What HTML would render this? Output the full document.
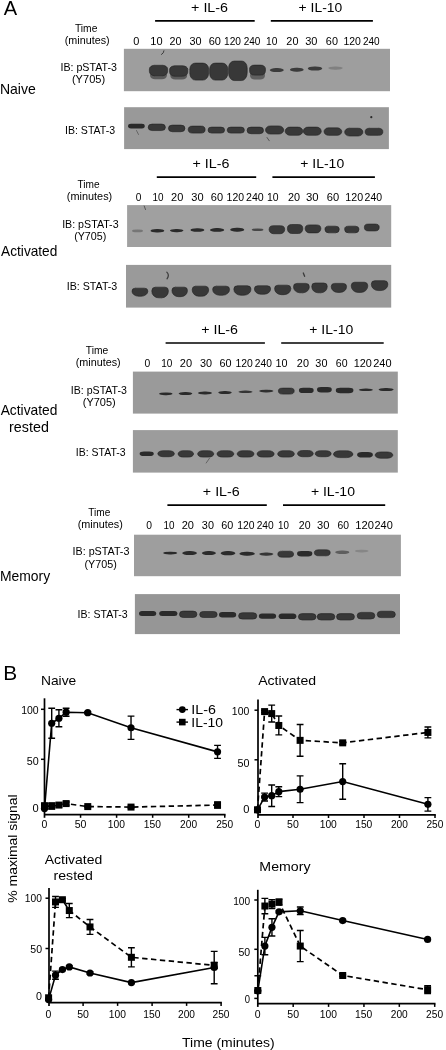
<!DOCTYPE html>
<html><head><meta charset="utf-8"><style>
html,body{margin:0;padding:0;background:#fff;}
body{width:446px;height:1050px;overflow:hidden;}
svg{display:block;font-family:"Liberation Sans", sans-serif;filter:grayscale(1) blur(0.3px);}
</style></head><body>
<svg width="446" height="1050" viewBox="0 0 446 1050" xmlns="http://www.w3.org/2000/svg">
<defs><filter id="bl" x="-20%" y="-50%" width="140%" height="200%"><feGaussianBlur stdDeviation="0.45"/></filter></defs>
<text x="3.80" y="14.80" font-size="20.6" textLength="13.40" lengthAdjust="spacingAndGlyphs" >A</text>
<text x="3.21" y="679.90" font-size="20.4" textLength="13.93" lengthAdjust="spacingAndGlyphs" >B</text>
<text x="-0.11" y="93.80" font-size="14.5" textLength="35.87" lengthAdjust="spacingAndGlyphs" >Naive</text>
<text x="191.09" y="11.80" font-size="13.2" textLength="36.96" lengthAdjust="spacingAndGlyphs" >+ IL-6</text>
<line x1="155.10" y1="20.90" x2="254.70" y2="20.90" stroke="#000" stroke-width="1.7" />
<text x="298.61" y="11.80" font-size="13.2" textLength="43.65" lengthAdjust="spacingAndGlyphs" >+ IL-10</text>
<line x1="270.80" y1="20.90" x2="372.90" y2="20.90" stroke="#000" stroke-width="1.7" />
<text x="74.94" y="31.70" font-size="10" textLength="22.43" lengthAdjust="spacingAndGlyphs" >Time</text>
<text x="64.79" y="44.00" font-size="10" textLength="44.85" lengthAdjust="spacingAndGlyphs" >(minutes)</text>
<text x="133.35" y="44.60" font-size="10" textLength="6.09" lengthAdjust="spacingAndGlyphs" >0</text>
<text x="150.38" y="44.60" font-size="10" textLength="12.24" lengthAdjust="spacingAndGlyphs" >10</text>
<text x="169.46" y="44.60" font-size="10" textLength="11.94" lengthAdjust="spacingAndGlyphs" >20</text>
<text x="189.46" y="44.60" font-size="10" textLength="12.05" lengthAdjust="spacingAndGlyphs" >30</text>
<text x="208.65" y="44.60" font-size="10" textLength="12.26" lengthAdjust="spacingAndGlyphs" >60</text>
<text x="224.04" y="44.60" font-size="10" textLength="17.01" lengthAdjust="spacingAndGlyphs" >120</text>
<text x="243.70" y="44.60" font-size="10" textLength="16.74" lengthAdjust="spacingAndGlyphs" >240</text>
<text x="266.04" y="44.60" font-size="10" textLength="11.35" lengthAdjust="spacingAndGlyphs" >10</text>
<text x="286.36" y="44.60" font-size="10" textLength="12.05" lengthAdjust="spacingAndGlyphs" >20</text>
<text x="305.15" y="44.60" font-size="10" textLength="12.26" lengthAdjust="spacingAndGlyphs" >30</text>
<text x="325.86" y="44.60" font-size="10" textLength="12.05" lengthAdjust="spacingAndGlyphs" >60</text>
<text x="343.42" y="44.60" font-size="10" textLength="17.44" lengthAdjust="spacingAndGlyphs" >120</text>
<text x="362.90" y="44.60" font-size="10" textLength="16.74" lengthAdjust="spacingAndGlyphs" >240</text>
<rect x="123.9" y="48.8" width="266.1" height="42.4" fill="#9e9e9e"/>
<rect x="124.1" y="107.2" width="264.8" height="41.9" fill="#999999"/>
<rect x="150.10" y="70" width="16.8" height="9.30" rx="5.04" ry="3.72" fill="#5a5a5a" filter="url(#bl)"/>
<rect x="170.30" y="70" width="16.8" height="9.60" rx="5.04" ry="3.84" fill="#5a5a5a" filter="url(#bl)"/>
<rect x="250.10" y="70" width="14.8" height="9.50" rx="4.44" ry="3.80" fill="#5e5e5e" filter="url(#bl)"/>
<path d="M149.40,68.92A5.46,3.67 0 0 1 154.86,65.25H162.14A5.46,3.67 0 0 1 167.60,68.92V71.55A5.46,4.20 0 0 1 162.14,75.75H154.86A5.46,4.20 0 0 1 149.40,71.55Z" fill="#383838" stroke="#222" stroke-width="0.6" opacity="1" filter="url(#bl)"/>
<path d="M169.60,69.42A5.46,3.67 0 0 1 175.06,65.75H182.34A5.46,3.67 0 0 1 187.80,69.42V72.05A5.46,4.20 0 0 1 182.34,76.25H175.06A5.46,4.20 0 0 1 169.60,72.05Z" fill="#383838" stroke="#222" stroke-width="0.6" opacity="1" filter="url(#bl)"/>
<path d="M189.80,69.05A5.64,5.95 0 0 1 195.44,63.10H202.96A5.64,5.95 0 0 1 208.60,69.05V73.30A5.64,6.80 0 0 1 202.96,80.10H195.44A5.64,6.80 0 0 1 189.80,73.30Z" fill="#383838" stroke="#222" stroke-width="0.6" opacity="1" filter="url(#bl)"/>
<path d="M209.65,69.05A5.43,5.95 0 0 1 215.08,63.10H222.32A5.43,5.95 0 0 1 227.75,69.05V73.30A5.43,6.80 0 0 1 222.32,80.10H215.08A5.43,6.80 0 0 1 209.65,73.30Z" fill="#383838" stroke="#222" stroke-width="0.6" opacity="1" filter="url(#bl)"/>
<path d="M228.60,67.88A5.58,6.82 0 0 1 234.18,61.05H241.62A5.58,6.82 0 0 1 247.20,67.88V72.75A5.58,7.80 0 0 1 241.62,80.55H234.18A5.58,7.80 0 0 1 228.60,72.75Z" fill="#383838" stroke="#222" stroke-width="0.6" opacity="1" filter="url(#bl)"/>
<path d="M249.60,68.60A4.74,3.50 0 0 1 254.34,65.10H260.66A4.74,3.50 0 0 1 265.40,68.60V71.10A4.74,4.00 0 0 1 260.66,75.10H254.34A4.74,4.00 0 0 1 249.60,71.10Z" fill="#383838" stroke="#222" stroke-width="0.6" opacity="1" filter="url(#bl)"/>
<path d="M269.75,70.10A6.34,2.00 0 0 1 276.10,68.10H277.50A6.34,2.00 0 0 1 283.85,70.10V70.10A6.34,2.00 0 0 1 277.50,72.10H276.10A6.34,2.00 0 0 1 269.75,70.10Z" fill="#2a2a2a" opacity="0.85" filter="url(#bl)"/>
<path d="M289.95,69.70A6.17,2.00 0 0 1 296.12,67.70H297.49A6.17,2.00 0 0 1 303.65,69.70V69.70A6.17,2.00 0 0 1 297.49,71.70H296.12A6.17,2.00 0 0 1 289.95,69.70Z" fill="#2a2a2a" opacity="0.85" filter="url(#bl)"/>
<path d="M307.75,68.50A6.53,2.00 0 0 1 314.27,66.50H315.73A6.53,2.00 0 0 1 322.25,68.50V68.50A6.53,2.00 0 0 1 315.73,70.50H314.27A6.53,2.00 0 0 1 307.75,68.50Z" fill="#2a2a2a" opacity="0.85" filter="url(#bl)"/>
<path d="M328.20,68.10A6.57,1.60 0 0 1 334.77,66.50H336.23A6.57,1.60 0 0 1 342.80,68.10V68.10A6.57,1.60 0 0 1 336.23,69.70H334.77A6.57,1.60 0 0 1 328.20,68.10Z" fill="#2a2a2a" opacity="0.25" filter="url(#bl)"/>
<path d="M128.00,126.10A2.94,2.45 0 0 1 130.94,123.65H141.86A2.94,2.45 0 0 1 144.80,126.10V126.10A2.94,2.45 0 0 1 141.86,128.55H130.94A2.94,2.45 0 0 1 128.00,126.10Z" fill="#2a2a2a" opacity="1" filter="url(#bl)"/>
<path d="M148.20,127.30A3.90,3.25 0 0 1 152.10,124.05H161.50A3.90,3.25 0 0 1 165.40,127.30V127.30A3.90,3.25 0 0 1 161.50,130.55H152.10A3.90,3.25 0 0 1 148.20,127.30Z" fill="#383838" stroke="#222" stroke-width="0.6" opacity="1" filter="url(#bl)"/>
<path d="M168.45,128.40A3.96,3.30 0 0 1 172.41,125.10H180.99A3.96,3.30 0 0 1 184.95,128.40V128.40A3.96,3.30 0 0 1 180.99,131.70H172.41A3.96,3.30 0 0 1 168.45,128.40Z" fill="#383838" stroke="#222" stroke-width="0.6" opacity="1" filter="url(#bl)"/>
<path d="M188.25,129.60A4.20,3.50 0 0 1 192.45,126.10H200.95A4.20,3.50 0 0 1 205.15,129.60V129.60A4.20,3.50 0 0 1 200.95,133.10H192.45A4.20,3.50 0 0 1 188.25,129.60Z" fill="#383838" stroke="#222" stroke-width="0.6" opacity="1" filter="url(#bl)"/>
<path d="M208.00,130.10A3.60,3.00 0 0 1 211.60,127.10H221.00A3.60,3.00 0 0 1 224.60,130.10V130.10A3.60,3.00 0 0 1 221.00,133.10H211.60A3.60,3.00 0 0 1 208.00,130.10Z" fill="#383838" stroke="#222" stroke-width="0.6" opacity="1" filter="url(#bl)"/>
<path d="M227.20,130.10A3.60,3.00 0 0 1 230.80,127.10H240.80A3.60,3.00 0 0 1 244.40,130.10V130.10A3.60,3.00 0 0 1 240.80,133.10H230.80A3.60,3.00 0 0 1 227.20,130.10Z" fill="#383838" stroke="#222" stroke-width="0.6" opacity="1" filter="url(#bl)"/>
<path d="M247.05,130.40A3.96,3.30 0 0 1 251.01,127.10H259.59A3.96,3.30 0 0 1 263.55,130.40V130.40A3.96,3.30 0 0 1 259.59,133.70H251.01A3.96,3.30 0 0 1 247.05,130.40Z" fill="#383838" stroke="#222" stroke-width="0.6" opacity="1" filter="url(#bl)"/>
<path d="M265.50,130.00A4.86,4.05 0 0 1 270.36,125.95H278.84A4.86,4.05 0 0 1 283.70,130.00V130.00A4.86,4.05 0 0 1 278.84,134.05H270.36A4.86,4.05 0 0 1 265.50,130.00Z" fill="#383838" stroke="#222" stroke-width="0.6" opacity="1" filter="url(#bl)"/>
<path d="M285.20,131.20A4.92,4.10 0 0 1 290.12,127.10H297.88A4.92,4.10 0 0 1 302.80,131.20V131.20A4.92,4.10 0 0 1 297.88,135.30H290.12A4.92,4.10 0 0 1 285.20,131.20Z" fill="#383838" stroke="#222" stroke-width="0.6" opacity="1" filter="url(#bl)"/>
<path d="M303.35,131.20A4.92,4.10 0 0 1 308.27,127.10H316.33A4.92,4.10 0 0 1 321.25,131.20V131.20A4.92,4.10 0 0 1 316.33,135.30H308.27A4.92,4.10 0 0 1 303.35,131.20Z" fill="#383838" stroke="#222" stroke-width="0.6" opacity="1" filter="url(#bl)"/>
<path d="M324.05,131.60A4.50,3.75 0 0 1 328.55,127.85H337.25A4.50,3.75 0 0 1 341.75,131.60V131.60A4.50,3.75 0 0 1 337.25,135.35H328.55A4.50,3.75 0 0 1 324.05,131.60Z" fill="#383838" stroke="#222" stroke-width="0.6" opacity="1" filter="url(#bl)"/>
<path d="M344.70,132.10A4.68,3.90 0 0 1 349.38,128.20H358.22A4.68,3.90 0 0 1 362.90,132.10V132.10A4.68,3.90 0 0 1 358.22,136.00H349.38A4.68,3.90 0 0 1 344.70,132.10Z" fill="#383838" stroke="#222" stroke-width="0.6" opacity="1" filter="url(#bl)"/>
<path d="M365.15,131.80A4.26,3.55 0 0 1 369.41,128.25H378.59A4.26,3.55 0 0 1 382.85,131.80V131.80A4.26,3.55 0 0 1 378.59,135.35H369.41A4.26,3.55 0 0 1 365.15,131.80Z" fill="#383838" stroke="#222" stroke-width="0.6" opacity="1" filter="url(#bl)"/>
<text x="60.43" y="71.00" font-size="11" textLength="56.48" lengthAdjust="spacingAndGlyphs" >IB: pSTAT-3</text>
<text x="71.95" y="83.30" font-size="11" textLength="33.19" lengthAdjust="spacingAndGlyphs" >(Y705)</text>
<text x="65.04" y="134.10" font-size="11" textLength="50.06" lengthAdjust="spacingAndGlyphs" >IB: STAT-3</text>
<text x="1.10" y="255.90" font-size="14.5" textLength="56.25" lengthAdjust="spacingAndGlyphs" >Activated</text>
<text x="192.49" y="168.20" font-size="13.2" textLength="36.85" lengthAdjust="spacingAndGlyphs" >+ IL-6</text>
<line x1="156.80" y1="177.10" x2="256.20" y2="177.10" stroke="#000" stroke-width="1.7" />
<text x="300.31" y="168.20" font-size="13.2" textLength="43.86" lengthAdjust="spacingAndGlyphs" >+ IL-10</text>
<line x1="272.40" y1="177.10" x2="374.90" y2="177.10" stroke="#000" stroke-width="1.7" />
<text x="77.55" y="188.20" font-size="10" textLength="22.12" lengthAdjust="spacingAndGlyphs" >Time</text>
<text x="66.88" y="200.30" font-size="10" textLength="45.36" lengthAdjust="spacingAndGlyphs" >(minutes)</text>
<text x="135.79" y="200.80" font-size="10" textLength="5.62" lengthAdjust="spacingAndGlyphs" >0</text>
<text x="152.56" y="200.80" font-size="10" textLength="11.01" lengthAdjust="spacingAndGlyphs" >10</text>
<text x="171.05" y="200.80" font-size="10" textLength="12.26" lengthAdjust="spacingAndGlyphs" >20</text>
<text x="191.35" y="200.80" font-size="10" textLength="12.26" lengthAdjust="spacingAndGlyphs" >30</text>
<text x="210.75" y="200.80" font-size="10" textLength="12.26" lengthAdjust="spacingAndGlyphs" >60</text>
<text x="226.62" y="200.80" font-size="10" textLength="17.44" lengthAdjust="spacingAndGlyphs" >120</text>
<text x="246.07" y="200.80" font-size="10" textLength="17.69" lengthAdjust="spacingAndGlyphs" >240</text>
<text x="267.02" y="200.80" font-size="10" textLength="11.57" lengthAdjust="spacingAndGlyphs" >10</text>
<text x="288.06" y="200.80" font-size="10" textLength="12.05" lengthAdjust="spacingAndGlyphs" >20</text>
<text x="306.03" y="200.80" font-size="10" textLength="12.59" lengthAdjust="spacingAndGlyphs" >30</text>
<text x="326.74" y="200.80" font-size="10" textLength="12.37" lengthAdjust="spacingAndGlyphs" >60</text>
<text x="345.30" y="200.80" font-size="10" textLength="17.76" lengthAdjust="spacingAndGlyphs" >120</text>
<text x="364.58" y="200.80" font-size="10" textLength="17.48" lengthAdjust="spacingAndGlyphs" >240</text>
<rect x="127.1" y="205.1" width="264.1" height="41.9" fill="#a0a0a0"/>
<rect x="126" y="264.9" width="265.2" height="42.7" fill="#9a9a9a"/>
<path d="M132.00,230.90A4.95,1.30 0 0 1 136.95,229.60H138.05A4.95,1.30 0 0 1 143.00,230.90V230.90A4.95,1.30 0 0 1 138.05,232.20H136.95A4.95,1.30 0 0 1 132.00,230.90Z" fill="#2a2a2a" opacity="0.35" filter="url(#bl)"/>
<path d="M150.55,230.80A6.17,1.70 0 0 1 156.72,229.10H158.09A6.17,1.70 0 0 1 164.25,230.80V230.80A6.17,1.70 0 0 1 158.09,232.50H156.72A6.17,1.70 0 0 1 150.55,230.80Z" fill="#2a2a2a" opacity="1" filter="url(#bl)"/>
<path d="M169.95,230.60A6.08,1.60 0 0 1 176.02,229.00H177.38A6.08,1.60 0 0 1 183.45,230.60V230.60A6.08,1.60 0 0 1 177.38,232.20H176.02A6.08,1.60 0 0 1 169.95,230.60Z" fill="#2a2a2a" opacity="1" filter="url(#bl)"/>
<path d="M190.50,229.90A6.21,1.75 0 0 1 196.71,228.15H198.09A6.21,1.75 0 0 1 204.30,229.90V229.90A6.21,1.75 0 0 1 198.09,231.65H196.71A6.21,1.75 0 0 1 190.50,229.90Z" fill="#2a2a2a" opacity="1" filter="url(#bl)"/>
<path d="M210.00,229.90A6.39,1.80 0 0 1 216.39,228.10H217.81A6.39,1.80 0 0 1 224.20,229.90V229.90A6.39,1.80 0 0 1 217.81,231.70H216.39A6.39,1.80 0 0 1 210.00,229.90Z" fill="#2a2a2a" opacity="1" filter="url(#bl)"/>
<path d="M230.15,229.70A6.34,2.00 0 0 1 236.49,227.70H237.91A6.34,2.00 0 0 1 244.25,229.70V229.70A6.34,2.00 0 0 1 237.91,231.70H236.49A6.34,2.00 0 0 1 230.15,229.70Z" fill="#2a2a2a" opacity="1" filter="url(#bl)"/>
<path d="M251.75,229.80A5.26,1.30 0 0 1 257.02,228.50H258.19A5.26,1.30 0 0 1 263.45,229.80V229.80A5.26,1.30 0 0 1 258.19,231.10H257.02A5.26,1.30 0 0 1 251.75,229.80Z" fill="#2a2a2a" opacity="0.75" filter="url(#bl)"/>
<path d="M269.15,229.06A4.34,3.36 0 0 1 273.49,225.70H280.31A4.34,3.36 0 0 1 284.65,229.06V229.70A4.34,4.00 0 0 1 280.31,233.70H273.49A4.34,4.00 0 0 1 269.15,229.70Z" fill="#383838" stroke="#222" stroke-width="0.6" opacity="1" filter="url(#bl)"/>
<path d="M287.45,228.28A4.28,3.78 0 0 1 291.73,224.50H298.47A4.28,3.78 0 0 1 302.75,228.28V229.00A4.28,4.50 0 0 1 298.47,233.50H291.73A4.28,4.50 0 0 1 287.45,229.00Z" fill="#383838" stroke="#222" stroke-width="0.6" opacity="1" filter="url(#bl)"/>
<path d="M305.20,228.26A4.37,3.36 0 0 1 309.57,224.90H316.43A4.37,3.36 0 0 1 320.80,228.26V228.90A4.37,4.00 0 0 1 316.43,232.90H309.57A4.37,4.00 0 0 1 305.20,228.90Z" fill="#383838" stroke="#222" stroke-width="0.6" opacity="1" filter="url(#bl)"/>
<path d="M324.95,228.96A4.00,2.81 0 0 1 328.95,226.15H335.25A4.00,2.81 0 0 1 339.25,228.96V229.50A4.00,3.35 0 0 1 335.25,232.85H328.95A4.00,3.35 0 0 1 324.95,229.50Z" fill="#383838" stroke="#222" stroke-width="0.6" opacity="1" filter="url(#bl)"/>
<path d="M344.65,228.96A4.00,2.81 0 0 1 348.65,226.15H354.95A4.00,2.81 0 0 1 358.95,228.96V229.50A4.00,3.35 0 0 1 354.95,232.85H348.65A4.00,3.35 0 0 1 344.65,229.50Z" fill="#383838" stroke="#222" stroke-width="0.6" opacity="1" filter="url(#bl)"/>
<path d="M364.40,226.95A4.14,2.90 0 0 1 368.54,224.05H375.06A4.14,2.90 0 0 1 379.20,226.95V227.50A4.14,3.45 0 0 1 375.06,230.95H368.54A4.14,3.45 0 0 1 364.40,227.50Z" fill="#383838" stroke="#222" stroke-width="0.6" opacity="1" filter="url(#bl)"/>
<path d="M132.00,290.98A3.48,2.83 0 0 1 135.48,288.15H144.32A3.48,2.83 0 0 1 147.80,290.98V291.23A6.64,5.02 0 0 1 141.16,296.25H138.64A6.64,5.02 0 0 1 132.00,291.23Z" fill="#383838" stroke="#222" stroke-width="0.6" opacity="1" filter="url(#bl)"/>
<path d="M151.80,290.89A3.65,3.74 0 0 1 155.45,287.15H164.75A3.65,3.74 0 0 1 168.40,290.89V291.22A6.97,6.63 0 0 1 161.43,297.85H158.77A6.97,6.63 0 0 1 151.80,291.22Z" fill="#383838" stroke="#222" stroke-width="0.6" opacity="1" filter="url(#bl)"/>
<path d="M171.95,290.47A3.41,3.32 0 0 1 175.36,287.15H184.04A3.41,3.32 0 0 1 187.45,290.47V290.76A6.51,5.89 0 0 1 180.94,296.65H178.46A6.51,5.89 0 0 1 171.95,290.76Z" fill="#383838" stroke="#222" stroke-width="0.6" opacity="1" filter="url(#bl)"/>
<path d="M192.15,289.69A3.63,3.53 0 0 1 195.78,286.15H205.02A3.63,3.53 0 0 1 208.65,289.69V289.99A6.93,6.26 0 0 1 201.72,296.25H199.08A6.93,6.26 0 0 1 192.15,289.99Z" fill="#383838" stroke="#222" stroke-width="0.6" opacity="1" filter="url(#bl)"/>
<path d="M212.65,289.33A3.72,3.18 0 0 1 216.37,286.15H225.83A3.72,3.18 0 0 1 229.55,289.33V289.61A7.10,5.64 0 0 1 222.45,295.25H219.75A7.10,5.64 0 0 1 212.65,289.61Z" fill="#383838" stroke="#222" stroke-width="0.6" opacity="1" filter="url(#bl)"/>
<path d="M233.85,289.07A3.76,3.32 0 0 1 237.61,285.75H247.19A3.76,3.32 0 0 1 250.95,289.07V289.36A7.18,5.89 0 0 1 243.77,295.25H241.03A7.18,5.89 0 0 1 233.85,289.36Z" fill="#383838" stroke="#222" stroke-width="0.6" opacity="1" filter="url(#bl)"/>
<path d="M254.40,288.73A3.56,2.97 0 0 1 257.96,285.75H267.04A3.56,2.97 0 0 1 270.60,288.73V288.98A6.80,5.27 0 0 1 263.80,294.25H261.20A6.80,5.27 0 0 1 254.40,288.98Z" fill="#383838" stroke="#222" stroke-width="0.6" opacity="1" filter="url(#bl)"/>
<path d="M274.60,288.47A3.56,3.32 0 0 1 278.16,285.15H287.24A3.56,3.32 0 0 1 290.80,288.47V288.76A6.80,5.89 0 0 1 284.00,294.65H281.40A6.80,5.89 0 0 1 274.60,288.76Z" fill="#383838" stroke="#222" stroke-width="0.6" opacity="1" filter="url(#bl)"/>
<path d="M293.50,286.69A3.48,3.29 0 0 1 296.98,283.40H305.82A3.48,3.29 0 0 1 309.30,286.69V286.97A6.64,5.83 0 0 1 302.66,292.80H300.14A6.64,5.83 0 0 1 293.50,286.97Z" fill="#383838" stroke="#222" stroke-width="0.6" opacity="1" filter="url(#bl)"/>
<path d="M311.75,286.43A3.41,3.43 0 0 1 315.16,283.00H323.84A3.41,3.43 0 0 1 327.25,286.43V286.72A6.51,6.08 0 0 1 320.74,292.80H318.26A6.51,6.08 0 0 1 311.75,286.72Z" fill="#383838" stroke="#222" stroke-width="0.6" opacity="1" filter="url(#bl)"/>
<path d="M331.25,286.55A3.37,3.15 0 0 1 334.62,283.40H343.18A3.37,3.15 0 0 1 346.55,286.55V286.82A6.43,5.58 0 0 1 340.12,292.40H337.68A6.43,5.58 0 0 1 331.25,286.82Z" fill="#383838" stroke="#222" stroke-width="0.6" opacity="1" filter="url(#bl)"/>
<path d="M351.25,285.77A3.63,3.57 0 0 1 354.88,282.20H364.12A3.63,3.57 0 0 1 367.75,285.77V286.08A6.93,6.32 0 0 1 360.82,292.40H358.18A6.93,6.32 0 0 1 351.25,286.08Z" fill="#383838" stroke="#222" stroke-width="0.6" opacity="1" filter="url(#bl)"/>
<path d="M371.35,284.12A3.63,3.46 0 0 1 374.98,280.65H384.22A3.63,3.46 0 0 1 387.85,284.12V284.41A6.93,6.14 0 0 1 380.92,290.55H378.28A6.93,6.14 0 0 1 371.35,284.41Z" fill="#383838" stroke="#222" stroke-width="0.6" opacity="1" filter="url(#bl)"/>
<text x="62.13" y="227.70" font-size="11" textLength="56.48" lengthAdjust="spacingAndGlyphs" >IB: pSTAT-3</text>
<text x="74.17" y="239.90" font-size="11" textLength="32.15" lengthAdjust="spacingAndGlyphs" >(Y705)</text>
<text x="66.73" y="290.40" font-size="11" textLength="50.58" lengthAdjust="spacingAndGlyphs" >IB: STAT-3</text>
<text x="0.70" y="415.40" font-size="14.5" textLength="56.66" lengthAdjust="spacingAndGlyphs" >Activated</text>
<text x="9.11" y="431.60" font-size="14.5" textLength="39.73" lengthAdjust="spacingAndGlyphs" >rested</text>
<text x="201.19" y="333.80" font-size="13.2" textLength="36.85" lengthAdjust="spacingAndGlyphs" >+ IL-6</text>
<line x1="165.60" y1="343.00" x2="264.90" y2="343.00" stroke="#000" stroke-width="1.7" />
<text x="309.30" y="333.80" font-size="13.2" textLength="43.96" lengthAdjust="spacingAndGlyphs" >+ IL-10</text>
<line x1="281.20" y1="343.00" x2="383.70" y2="343.00" stroke="#000" stroke-width="1.7" />
<text x="85.84" y="353.60" font-size="10" textLength="22.43" lengthAdjust="spacingAndGlyphs" >Time</text>
<text x="75.69" y="366.30" font-size="10" textLength="45.05" lengthAdjust="spacingAndGlyphs" >(minutes)</text>
<text x="144.48" y="366.60" font-size="10" textLength="5.74" lengthAdjust="spacingAndGlyphs" >0</text>
<text x="161.15" y="366.60" font-size="10" textLength="11.12" lengthAdjust="spacingAndGlyphs" >10</text>
<text x="179.85" y="366.60" font-size="10" textLength="12.26" lengthAdjust="spacingAndGlyphs" >20</text>
<text x="200.06" y="366.60" font-size="10" textLength="12.05" lengthAdjust="spacingAndGlyphs" >30</text>
<text x="219.46" y="366.60" font-size="10" textLength="12.05" lengthAdjust="spacingAndGlyphs" >60</text>
<text x="235.42" y="366.60" font-size="10" textLength="17.33" lengthAdjust="spacingAndGlyphs" >120</text>
<text x="254.89" y="366.60" font-size="10" textLength="17.06" lengthAdjust="spacingAndGlyphs" >240</text>
<text x="275.49" y="366.60" font-size="10" textLength="12.02" lengthAdjust="spacingAndGlyphs" >10</text>
<text x="296.86" y="366.60" font-size="10" textLength="12.05" lengthAdjust="spacingAndGlyphs" >20</text>
<text x="315.36" y="366.60" font-size="10" textLength="12.05" lengthAdjust="spacingAndGlyphs" >30</text>
<text x="335.87" y="366.60" font-size="10" textLength="11.72" lengthAdjust="spacingAndGlyphs" >60</text>
<text x="353.79" y="366.60" font-size="10" textLength="18.09" lengthAdjust="spacingAndGlyphs" >120</text>
<text x="373.25" y="366.60" font-size="10" textLength="18.33" lengthAdjust="spacingAndGlyphs" >240</text>
<rect x="132.9" y="371.6" width="264.9" height="42.0" fill="#9a9a9a"/>
<rect x="132.9" y="430.1" width="264.9" height="42.5" fill="#9c9c9c"/>
<path d="M159.05,393.80A6.08,1.40 0 0 1 165.12,392.40H166.48A6.08,1.40 0 0 1 172.55,393.80V393.80A6.08,1.40 0 0 1 166.48,395.20H165.12A6.08,1.40 0 0 1 159.05,393.80Z" fill="#2a2a2a" opacity="1" filter="url(#bl)"/>
<path d="M178.65,393.60A6.17,1.50 0 0 1 184.81,392.10H186.19A6.17,1.50 0 0 1 192.35,393.60V393.60A6.17,1.50 0 0 1 186.19,395.10H184.81A6.17,1.50 0 0 1 178.65,393.60Z" fill="#2a2a2a" opacity="1" filter="url(#bl)"/>
<path d="M197.95,393.00A6.34,1.50 0 0 1 204.29,391.50H205.71A6.34,1.50 0 0 1 212.05,393.00V393.00A6.34,1.50 0 0 1 205.71,394.50H204.29A6.34,1.50 0 0 1 197.95,393.00Z" fill="#2a2a2a" opacity="1" filter="url(#bl)"/>
<path d="M218.25,392.60A6.08,1.50 0 0 1 224.32,391.10H225.68A6.08,1.50 0 0 1 231.75,392.60V392.60A6.08,1.50 0 0 1 225.68,394.10H224.32A6.08,1.50 0 0 1 218.25,392.60Z" fill="#2a2a2a" opacity="1" filter="url(#bl)"/>
<path d="M238.45,391.80A6.34,1.30 0 0 1 244.79,390.50H246.21A6.34,1.30 0 0 1 252.55,391.80V391.80A6.34,1.30 0 0 1 246.21,393.10H244.79A6.34,1.30 0 0 1 238.45,391.80Z" fill="#2a2a2a" opacity="0.9" filter="url(#bl)"/>
<path d="M259.25,391.10A6.34,1.40 0 0 1 265.60,389.70H267.00A6.34,1.40 0 0 1 273.35,391.10V391.10A6.34,1.40 0 0 1 267.00,392.50H265.60A6.34,1.40 0 0 1 259.25,391.10Z" fill="#2a2a2a" opacity="0.95" filter="url(#bl)"/>
<path d="M278.40,390.62A4.42,2.52 0 0 1 282.82,388.10H289.78A4.42,2.52 0 0 1 294.20,390.62V391.10A4.42,3.00 0 0 1 289.78,394.10H282.82A4.42,3.00 0 0 1 278.40,391.10Z" fill="#383838" stroke="#222" stroke-width="0.6" opacity="1" filter="url(#bl)"/>
<path d="M298.95,389.97A4.12,2.27 0 0 1 303.07,387.70H309.53A4.12,2.27 0 0 1 313.65,389.97V390.40A4.12,2.70 0 0 1 309.53,393.10H303.07A4.12,2.70 0 0 1 298.95,390.40Z" fill="#2a2a2a" opacity="1" filter="url(#bl)"/>
<path d="M317.05,389.37A4.12,2.27 0 0 1 321.17,387.10H327.63A4.12,2.27 0 0 1 331.75,389.37V389.80A4.12,2.70 0 0 1 327.63,392.50H321.17A4.12,2.70 0 0 1 317.05,389.80Z" fill="#2a2a2a" opacity="1" filter="url(#bl)"/>
<path d="M335.80,389.96A4.50,2.31 0 0 1 340.30,387.65H348.90A4.50,2.31 0 0 1 353.40,389.96V390.40A4.50,2.75 0 0 1 348.90,393.15H340.30A4.50,2.75 0 0 1 335.80,390.40Z" fill="#2a2a2a" opacity="1" filter="url(#bl)"/>
<path d="M358.80,389.80A6.39,1.30 0 0 1 365.19,388.50H366.61A6.39,1.30 0 0 1 373.00,389.80V389.80A6.39,1.30 0 0 1 366.61,391.10H365.19A6.39,1.30 0 0 1 358.80,389.80Z" fill="#2a2a2a" opacity="1" filter="url(#bl)"/>
<path d="M378.55,389.60A6.79,1.50 0 0 1 385.35,388.10H386.86A6.79,1.50 0 0 1 393.65,389.60V389.60A6.79,1.50 0 0 1 386.86,391.10H385.35A6.79,1.50 0 0 1 378.55,389.60Z" fill="#2a2a2a" opacity="1" filter="url(#bl)"/>
<path d="M139.60,453.80A4.54,2.30 0 0 1 144.14,451.50H149.26A4.54,2.30 0 0 1 153.80,453.80V453.80A4.54,2.30 0 0 1 149.26,456.10H144.14A4.54,2.30 0 0 1 139.60,453.80Z" fill="#2a2a2a" opacity="1" filter="url(#bl)"/>
<path d="M157.80,453.70A5.31,3.00 0 0 1 163.11,450.70H169.09A5.31,3.00 0 0 1 174.40,453.70V453.70A5.31,3.00 0 0 1 169.09,456.70H163.11A5.31,3.00 0 0 1 157.80,453.70Z" fill="#383838" stroke="#222" stroke-width="0.6" opacity="1" filter="url(#bl)"/>
<path d="M178.05,453.90A4.96,3.20 0 0 1 183.01,450.70H188.59A4.96,3.20 0 0 1 193.55,453.90V453.90A4.96,3.20 0 0 1 188.59,457.10H183.01A4.96,3.20 0 0 1 178.05,453.90Z" fill="#383838" stroke="#222" stroke-width="0.6" opacity="1" filter="url(#bl)"/>
<path d="M197.65,453.90A5.15,3.20 0 0 1 202.80,450.70H208.60A5.15,3.20 0 0 1 213.75,453.90V453.90A5.15,3.20 0 0 1 208.60,457.10H202.80A5.15,3.20 0 0 1 197.65,453.90Z" fill="#383838" stroke="#222" stroke-width="0.6" opacity="1" filter="url(#bl)"/>
<path d="M217.00,453.90A5.38,3.20 0 0 1 222.38,450.70H228.42A5.38,3.20 0 0 1 233.80,453.90V453.90A5.38,3.20 0 0 1 228.42,457.10H222.38A5.38,3.20 0 0 1 217.00,453.90Z" fill="#383838" stroke="#222" stroke-width="0.6" opacity="1" filter="url(#bl)"/>
<path d="M237.20,453.90A5.38,3.20 0 0 1 242.58,450.70H248.62A5.38,3.20 0 0 1 254.00,453.90V453.90A5.38,3.20 0 0 1 248.62,457.10H242.58A5.38,3.20 0 0 1 237.20,453.90Z" fill="#383838" stroke="#222" stroke-width="0.6" opacity="1" filter="url(#bl)"/>
<path d="M257.05,453.90A5.47,3.20 0 0 1 262.52,450.70H268.68A5.47,3.20 0 0 1 274.15,453.90V453.90A5.47,3.20 0 0 1 268.68,457.10H262.52A5.47,3.20 0 0 1 257.05,453.90Z" fill="#383838" stroke="#222" stroke-width="0.6" opacity="1" filter="url(#bl)"/>
<path d="M277.65,453.90A5.34,3.20 0 0 1 282.99,450.70H289.01A5.34,3.20 0 0 1 294.35,453.90V453.90A5.34,3.20 0 0 1 289.01,457.10H282.99A5.34,3.20 0 0 1 277.65,453.90Z" fill="#383838" stroke="#222" stroke-width="0.6" opacity="1" filter="url(#bl)"/>
<path d="M297.50,453.60A5.06,3.10 0 0 1 302.56,450.50H308.24A5.06,3.10 0 0 1 313.30,453.60V453.60A5.06,3.10 0 0 1 308.24,456.70H302.56A5.06,3.10 0 0 1 297.50,453.60Z" fill="#383838" stroke="#222" stroke-width="0.6" opacity="1" filter="url(#bl)"/>
<path d="M315.20,453.70A5.12,3.00 0 0 1 320.32,450.70H326.08A5.12,3.00 0 0 1 331.20,453.70V453.70A5.12,3.00 0 0 1 326.08,456.70H320.32A5.12,3.00 0 0 1 315.20,453.70Z" fill="#383838" stroke="#222" stroke-width="0.6" opacity="1" filter="url(#bl)"/>
<path d="M333.50,454.20A6.21,3.40 0 0 1 339.71,450.80H346.69A6.21,3.40 0 0 1 352.90,454.20V454.20A6.21,3.40 0 0 1 346.69,457.60H339.71A6.21,3.40 0 0 1 333.50,454.20Z" fill="#383838" stroke="#222" stroke-width="0.6" opacity="1" filter="url(#bl)"/>
<path d="M357.10,454.80A5.06,2.80 0 0 1 362.16,452.00H367.84A5.06,2.80 0 0 1 372.90,454.80V454.80A5.06,2.80 0 0 1 367.84,457.60H362.16A5.06,2.80 0 0 1 357.10,454.80Z" fill="#2a2a2a" opacity="1" filter="url(#bl)"/>
<path d="M375.15,455.10A5.66,3.15 0 0 1 380.81,451.95H387.19A5.66,3.15 0 0 1 392.85,455.10V455.10A5.66,3.15 0 0 1 387.19,458.25H380.81A5.66,3.15 0 0 1 375.15,455.10Z" fill="#383838" stroke="#222" stroke-width="0.6" opacity="1" filter="url(#bl)"/>
<text x="70.84" y="393.50" font-size="11" textLength="56.07" lengthAdjust="spacingAndGlyphs" >IB: pSTAT-3</text>
<text x="82.75" y="405.80" font-size="11" textLength="32.98" lengthAdjust="spacingAndGlyphs" >(Y705)</text>
<text x="75.85" y="456.00" font-size="11" textLength="49.76" lengthAdjust="spacingAndGlyphs" >IB: STAT-3</text>
<text x="-0.10" y="580.90" font-size="14.5" textLength="50.22" lengthAdjust="spacingAndGlyphs" >Memory</text>
<text x="202.89" y="495.90" font-size="13.2" textLength="36.85" lengthAdjust="spacingAndGlyphs" >+ IL-6</text>
<line x1="167.40" y1="505.10" x2="266.80" y2="505.10" stroke="#000" stroke-width="1.7" />
<text x="310.90" y="495.90" font-size="13.2" textLength="44.06" lengthAdjust="spacingAndGlyphs" >+ IL-10</text>
<line x1="283.00" y1="505.10" x2="385.20" y2="505.10" stroke="#000" stroke-width="1.7" />
<text x="88.35" y="516.10" font-size="10" textLength="22.01" lengthAdjust="spacingAndGlyphs" >Time</text>
<text x="77.69" y="528.20" font-size="10" textLength="45.16" lengthAdjust="spacingAndGlyphs" >(minutes)</text>
<text x="146.28" y="528.80" font-size="10" textLength="5.74" lengthAdjust="spacingAndGlyphs" >0</text>
<text x="163.46" y="528.80" font-size="10" textLength="11.01" lengthAdjust="spacingAndGlyphs" >10</text>
<text x="181.65" y="528.80" font-size="10" textLength="12.26" lengthAdjust="spacingAndGlyphs" >20</text>
<text x="201.86" y="528.80" font-size="10" textLength="12.05" lengthAdjust="spacingAndGlyphs" >30</text>
<text x="221.26" y="528.80" font-size="10" textLength="12.05" lengthAdjust="spacingAndGlyphs" >60</text>
<text x="237.22" y="528.80" font-size="10" textLength="17.33" lengthAdjust="spacingAndGlyphs" >120</text>
<text x="256.69" y="528.80" font-size="10" textLength="17.06" lengthAdjust="spacingAndGlyphs" >240</text>
<text x="277.96" y="528.80" font-size="10" textLength="10.90" lengthAdjust="spacingAndGlyphs" >10</text>
<text x="298.87" y="528.80" font-size="10" textLength="11.72" lengthAdjust="spacingAndGlyphs" >20</text>
<text x="317.04" y="528.80" font-size="10" textLength="12.37" lengthAdjust="spacingAndGlyphs" >30</text>
<text x="337.58" y="528.80" font-size="10" textLength="11.50" lengthAdjust="spacingAndGlyphs" >60</text>
<text x="355.26" y="528.80" font-size="10" textLength="18.63" lengthAdjust="spacingAndGlyphs" >120</text>
<text x="374.55" y="528.80" font-size="10" textLength="18.22" lengthAdjust="spacingAndGlyphs" >240</text>
<rect x="134" y="534.7" width="266.9" height="41.5" fill="#9e9e9e"/>
<rect x="134.9" y="594.1" width="265.1" height="40.0" fill="#969696"/>
<path d="M163.15,553.10A6.34,1.40 0 0 1 169.49,551.70H170.91A6.34,1.40 0 0 1 177.25,553.10V553.10A6.34,1.40 0 0 1 170.91,554.50H169.49A6.34,1.40 0 0 1 163.15,553.10Z" fill="#2a2a2a" opacity="1" filter="url(#bl)"/>
<path d="M182.20,553.10A6.66,2.00 0 0 1 188.86,551.10H190.34A6.66,2.00 0 0 1 197.00,553.10V553.10A6.66,2.00 0 0 1 190.34,555.10H188.86A6.66,2.00 0 0 1 182.20,553.10Z" fill="#2a2a2a" opacity="1" filter="url(#bl)"/>
<path d="M201.85,553.10A6.34,2.00 0 0 1 208.19,551.10H209.61A6.34,2.00 0 0 1 215.95,553.10V553.10A6.34,2.00 0 0 1 209.61,555.10H208.19A6.34,2.00 0 0 1 201.85,553.10Z" fill="#2a2a2a" opacity="1" filter="url(#bl)"/>
<path d="M220.65,553.20A6.62,2.10 0 0 1 227.27,551.10H228.73A6.62,2.10 0 0 1 235.35,553.20V553.20A6.62,2.10 0 0 1 228.73,555.30H227.27A6.62,2.10 0 0 1 220.65,553.20Z" fill="#2a2a2a" opacity="1" filter="url(#bl)"/>
<path d="M239.40,553.70A6.93,2.00 0 0 1 246.33,551.70H247.87A6.93,2.00 0 0 1 254.80,553.70V553.70A6.93,2.00 0 0 1 247.87,555.70H246.33A6.93,2.00 0 0 1 239.40,553.70Z" fill="#2a2a2a" opacity="1" filter="url(#bl)"/>
<path d="M259.25,554.10A6.34,1.60 0 0 1 265.60,552.50H267.00A6.34,1.60 0 0 1 273.35,554.10V554.10A6.34,1.60 0 0 1 267.00,555.70H265.60A6.34,1.60 0 0 1 259.25,554.10Z" fill="#2a2a2a" opacity="0.9" filter="url(#bl)"/>
<path d="M277.85,553.72A4.40,2.52 0 0 1 282.25,551.20H289.15A4.40,2.52 0 0 1 293.55,553.72V554.20A4.40,3.00 0 0 1 289.15,557.20H282.25A4.40,3.00 0 0 1 277.85,554.20Z" fill="#383838" stroke="#222" stroke-width="0.6" opacity="1" filter="url(#bl)"/>
<path d="M297.10,553.37A4.26,2.27 0 0 1 301.36,551.10H308.04A4.26,2.27 0 0 1 312.30,553.37V553.80A4.26,2.70 0 0 1 308.04,556.50H301.36A4.26,2.70 0 0 1 297.10,553.80Z" fill="#2a2a2a" opacity="1" filter="url(#bl)"/>
<path d="M314.40,552.32A4.42,2.52 0 0 1 318.82,549.80H325.78A4.42,2.52 0 0 1 330.20,552.32V552.80A4.42,3.00 0 0 1 325.78,555.80H318.82A4.42,3.00 0 0 1 314.40,552.80Z" fill="#383838" stroke="#222" stroke-width="0.6" opacity="1" filter="url(#bl)"/>
<path d="M335.25,552.30A6.34,1.80 0 0 1 341.60,550.50H343.00A6.34,1.80 0 0 1 349.35,552.30V552.30A6.34,1.80 0 0 1 343.00,554.10H341.60A6.34,1.80 0 0 1 335.25,552.30Z" fill="#2a2a2a" opacity="0.55" filter="url(#bl)"/>
<path d="M354.85,551.10A6.17,1.40 0 0 1 361.01,549.70H362.38A6.17,1.40 0 0 1 368.55,551.10V551.10A6.17,1.40 0 0 1 362.38,552.50H361.01A6.17,1.40 0 0 1 354.85,551.10Z" fill="#2a2a2a" opacity="0.2" filter="url(#bl)"/>
<path d="M139.00,613.60A3.00,2.50 0 0 1 142.00,611.10H153.20A3.00,2.50 0 0 1 156.20,613.60V613.60A3.00,2.50 0 0 1 153.20,616.10H142.00A3.00,2.50 0 0 1 139.00,613.60Z" fill="#2a2a2a" opacity="1" filter="url(#bl)"/>
<path d="M159.20,613.60A3.00,2.50 0 0 1 162.20,611.10H174.40A3.00,2.50 0 0 1 177.40,613.60V613.60A3.00,2.50 0 0 1 174.40,616.10H162.20A3.00,2.50 0 0 1 159.20,613.60Z" fill="#2a2a2a" opacity="1" filter="url(#bl)"/>
<path d="M179.45,614.30A3.84,3.20 0 0 1 183.29,611.10H193.11A3.84,3.20 0 0 1 196.95,614.30V614.30A3.84,3.20 0 0 1 193.11,617.50H183.29A3.84,3.20 0 0 1 179.45,614.30Z" fill="#383838" stroke="#222" stroke-width="0.6" opacity="1" filter="url(#bl)"/>
<path d="M199.65,614.50A3.60,3.00 0 0 1 203.25,611.50H213.55A3.60,3.00 0 0 1 217.15,614.50V614.50A3.60,3.00 0 0 1 213.55,617.50H203.25A3.60,3.00 0 0 1 199.65,614.50Z" fill="#383838" stroke="#222" stroke-width="0.6" opacity="1" filter="url(#bl)"/>
<path d="M219.00,614.80A3.24,2.70 0 0 1 222.24,612.10H232.96A3.24,2.70 0 0 1 236.20,614.80V614.80A3.24,2.70 0 0 1 232.96,617.50H222.24A3.24,2.70 0 0 1 219.00,614.80Z" fill="#2a2a2a" opacity="1" filter="url(#bl)"/>
<path d="M238.60,615.90A3.84,3.20 0 0 1 242.44,612.70H252.96A3.84,3.20 0 0 1 256.80,615.90V615.90A3.84,3.20 0 0 1 252.96,619.10H242.44A3.84,3.20 0 0 1 238.60,615.90Z" fill="#383838" stroke="#222" stroke-width="0.6" opacity="1" filter="url(#bl)"/>
<path d="M258.85,616.10A3.12,2.60 0 0 1 261.97,613.50H273.03A3.12,2.60 0 0 1 276.15,616.10V616.10A3.12,2.60 0 0 1 273.03,618.70H261.97A3.12,2.60 0 0 1 258.85,616.10Z" fill="#2a2a2a" opacity="1" filter="url(#bl)"/>
<path d="M278.65,616.30A3.36,2.80 0 0 1 282.01,613.50H292.99A3.36,2.80 0 0 1 296.35,616.30V616.30A3.36,2.80 0 0 1 292.99,619.10H282.01A3.36,2.80 0 0 1 278.65,616.30Z" fill="#2a2a2a" opacity="1" filter="url(#bl)"/>
<path d="M298.40,616.80A3.84,3.20 0 0 1 302.24,613.60H312.16A3.84,3.20 0 0 1 316.00,616.80V616.80A3.84,3.20 0 0 1 312.16,620.00H302.24A3.84,3.20 0 0 1 298.40,616.80Z" fill="#383838" stroke="#222" stroke-width="0.6" opacity="1" filter="url(#bl)"/>
<path d="M317.20,616.80A3.84,3.20 0 0 1 321.04,613.60H330.96A3.84,3.20 0 0 1 334.80,616.80V616.80A3.84,3.20 0 0 1 330.96,620.00H321.04A3.84,3.20 0 0 1 317.20,616.80Z" fill="#383838" stroke="#222" stroke-width="0.6" opacity="1" filter="url(#bl)"/>
<path d="M336.55,616.80A3.84,3.20 0 0 1 340.39,613.60H350.61A3.84,3.20 0 0 1 354.45,616.80V616.80A3.84,3.20 0 0 1 350.61,620.00H340.39A3.84,3.20 0 0 1 336.55,616.80Z" fill="#383838" stroke="#222" stroke-width="0.6" opacity="1" filter="url(#bl)"/>
<path d="M357.15,615.70A3.96,3.30 0 0 1 361.11,612.40H370.89A3.96,3.30 0 0 1 374.85,615.70V615.70A3.96,3.30 0 0 1 370.89,619.00H361.11A3.96,3.30 0 0 1 357.15,615.70Z" fill="#383838" stroke="#222" stroke-width="0.6" opacity="1" filter="url(#bl)"/>
<path d="M377.25,614.40A3.84,3.20 0 0 1 381.09,611.20H391.51A3.84,3.20 0 0 1 395.35,614.40V614.40A3.84,3.20 0 0 1 391.51,617.60H381.09A3.84,3.20 0 0 1 377.25,614.40Z" fill="#383838" stroke="#222" stroke-width="0.6" opacity="1" filter="url(#bl)"/>
<text x="72.52" y="555.10" font-size="11" textLength="56.89" lengthAdjust="spacingAndGlyphs" >IB: pSTAT-3</text>
<text x="84.47" y="567.70" font-size="11" textLength="32.36" lengthAdjust="spacingAndGlyphs" >(Y705)</text>
<text x="77.54" y="618.20" font-size="11" textLength="50.17" lengthAdjust="spacingAndGlyphs" >IB: STAT-3</text>
<g fill="none" stroke="#3a3a3a" stroke-width="1" stroke-linecap="round" filter="url(#bl)"><path d="M161.5,54.5 Q164,53 164,50.8"/><path d="M166.8,272.2 Q169.8,275.2 167,278.8" stroke-width="1.2"/><path d="M303.3,273 L304.6,276.3" stroke-width="1.3"/><path d="M136.5,130.5 L138.5,134.5" stroke="#666"/><path d="M267,137.5 L269.3,140.8" stroke="#555"/><path d="M144.2,206 L145.5,209.5" stroke="#555"/><path d="M209.5,458.2 L206.2,463" stroke="#555" stroke-width="0.8"/></g>
<circle cx="371.3" cy="117.2" r="1.1" fill="#2a2a2a"/>
<line x1="44.50" y1="698.30" x2="44.50" y2="817.80" stroke="#000" stroke-width="1.7" />
<line x1="41.00" y1="709.30" x2="44.50" y2="709.30" stroke="#000" stroke-width="1.5" />
<line x1="41.00" y1="759.30" x2="44.50" y2="759.30" stroke="#000" stroke-width="1.5" />
<line x1="41.00" y1="809.30" x2="44.50" y2="809.30" stroke="#000" stroke-width="1.5" />
<line x1="44.50" y1="814.60" x2="225.55" y2="814.60" stroke="#000" stroke-width="1.8" />
<line x1="80.55" y1="814.60" x2="80.55" y2="817.80" stroke="#000" stroke-width="1.5" />
<line x1="116.60" y1="814.60" x2="116.60" y2="817.80" stroke="#000" stroke-width="1.5" />
<line x1="152.65" y1="814.60" x2="152.65" y2="817.80" stroke="#000" stroke-width="1.5" />
<line x1="188.70" y1="814.60" x2="188.70" y2="817.80" stroke="#000" stroke-width="1.5" />
<line x1="224.75" y1="814.60" x2="224.75" y2="817.80" stroke="#000" stroke-width="1.5" />
<polyline points="44.50,808.60 51.71,723.26 58.92,718.24 66.13,712.21 87.76,712.71 131.02,727.77 217.54,751.87" fill="none" stroke="#000" stroke-width="1.6" />
<path d="M48.31,708.20H55.11M51.71,708.20V738.32M48.31,738.32H55.11" stroke="#000" stroke-width="1.4" fill="none"/>
<path d="M55.52,709.70H62.32M58.92,709.70V726.77M55.52,726.77H62.32" stroke="#000" stroke-width="1.4" fill="none"/>
<path d="M62.73,708.20H69.53M66.13,708.20V716.23M62.73,716.23H69.53" stroke="#000" stroke-width="1.4" fill="none"/>
<path d="M84.36,711.71H91.16M87.76,711.71V713.72M84.36,713.72H91.16" stroke="#000" stroke-width="1.4" fill="none"/>
<path d="M127.62,716.13H134.42M131.02,716.13V739.42M127.62,739.42H134.42" stroke="#000" stroke-width="1.4" fill="none"/>
<path d="M214.14,745.34H220.94M217.54,745.34V758.40M214.14,758.40H220.94" stroke="#000" stroke-width="1.4" fill="none"/>
<circle cx="44.50" cy="808.60" r="3.6" fill="#000"/>
<circle cx="51.71" cy="723.26" r="3.6" fill="#000"/>
<circle cx="58.92" cy="718.24" r="3.6" fill="#000"/>
<circle cx="66.13" cy="712.21" r="3.6" fill="#000"/>
<circle cx="87.76" cy="712.71" r="3.6" fill="#000"/>
<circle cx="131.02" cy="727.77" r="3.6" fill="#000"/>
<circle cx="217.54" cy="751.87" r="3.6" fill="#000"/>
<polyline points="44.50,806.09 51.71,806.09 58.92,805.08 66.13,803.58 87.76,806.59 131.02,807.09 217.54,805.08" fill="none" stroke="#000" stroke-width="1.7" stroke-dasharray="5.4 3.5"/>
<path d="M41.10,803.07H47.90M44.50,803.07V809.10M41.10,809.10H47.90" stroke="#000" stroke-width="1.4" fill="none"/>
<path d="M48.31,803.07H55.11M51.71,803.07V809.10M48.31,809.10H55.11" stroke="#000" stroke-width="1.4" fill="none"/>
<path d="M55.52,803.07H62.32M58.92,803.07V807.09M55.52,807.09H62.32" stroke="#000" stroke-width="1.4" fill="none"/>
<path d="M62.73,802.07H69.53M66.13,802.07V805.08M62.73,805.08H69.53" stroke="#000" stroke-width="1.4" fill="none"/>
<path d="M84.36,805.58H91.16M87.76,805.58V807.59M84.36,807.59H91.16" stroke="#000" stroke-width="1.4" fill="none"/>
<path d="M127.62,806.09H134.42M131.02,806.09V808.09M127.62,808.09H134.42" stroke="#000" stroke-width="1.4" fill="none"/>
<path d="M214.14,802.07H220.94M217.54,802.07V808.09M214.14,808.09H220.94" stroke="#000" stroke-width="1.4" fill="none"/>
<rect x="41.00" y="802.59" width="7" height="7" fill="#000"/>
<rect x="48.21" y="802.59" width="7" height="7" fill="#000"/>
<rect x="55.42" y="801.58" width="7" height="7" fill="#000"/>
<rect x="62.63" y="800.08" width="7" height="7" fill="#000"/>
<rect x="84.26" y="803.09" width="7" height="7" fill="#000"/>
<rect x="127.52" y="803.59" width="7" height="7" fill="#000"/>
<rect x="214.04" y="801.58" width="7" height="7" fill="#000"/>
<line x1="258.00" y1="699.50" x2="258.00" y2="818.00" stroke="#000" stroke-width="1.7" />
<line x1="254.50" y1="710.20" x2="258.00" y2="710.20" stroke="#000" stroke-width="1.5" />
<line x1="254.50" y1="759.80" x2="258.00" y2="759.80" stroke="#000" stroke-width="1.5" />
<line x1="254.50" y1="809.50" x2="258.00" y2="809.50" stroke="#000" stroke-width="1.5" />
<line x1="258.00" y1="814.80" x2="435.80" y2="814.80" stroke="#000" stroke-width="1.8" />
<line x1="293.00" y1="814.80" x2="293.00" y2="818.00" stroke="#000" stroke-width="1.5" />
<line x1="328.50" y1="814.80" x2="328.50" y2="818.00" stroke="#000" stroke-width="1.5" />
<line x1="364.00" y1="814.80" x2="364.00" y2="818.00" stroke="#000" stroke-width="1.5" />
<line x1="399.50" y1="814.80" x2="399.50" y2="818.00" stroke="#000" stroke-width="1.5" />
<line x1="435.00" y1="814.80" x2="435.00" y2="818.00" stroke="#000" stroke-width="1.5" />
<polyline points="257.50,809.80 264.60,797.10 271.70,795.71 278.80,791.65 300.10,789.27 342.70,781.53 427.90,804.34" fill="none" stroke="#000" stroke-width="1.6" />
<path d="M261.20,793.13H268.00M264.60,793.13V801.07M261.20,801.07H268.00" stroke="#000" stroke-width="1.4" fill="none"/>
<path d="M268.30,785.00H275.10M271.70,785.00V806.43M268.30,806.43H275.10" stroke="#000" stroke-width="1.4" fill="none"/>
<path d="M275.40,786.69H282.20M278.80,786.69V796.61M275.40,796.61H282.20" stroke="#000" stroke-width="1.4" fill="none"/>
<path d="M296.70,775.87H303.50M300.10,775.87V802.66M296.70,802.66H303.50" stroke="#000" stroke-width="1.4" fill="none"/>
<path d="M339.30,763.77H346.10M342.70,763.77V799.28M339.30,799.28H346.10" stroke="#000" stroke-width="1.4" fill="none"/>
<path d="M424.50,797.60H431.30M427.90,797.60V811.09M424.50,811.09H431.30" stroke="#000" stroke-width="1.4" fill="none"/>
<circle cx="257.50" cy="809.80" r="3.6" fill="#000"/>
<circle cx="264.60" cy="797.10" r="3.6" fill="#000"/>
<circle cx="271.70" cy="795.71" r="3.6" fill="#000"/>
<circle cx="278.80" cy="791.65" r="3.6" fill="#000"/>
<circle cx="300.10" cy="789.27" r="3.6" fill="#000"/>
<circle cx="342.70" cy="781.53" r="3.6" fill="#000"/>
<circle cx="427.90" cy="804.34" r="3.6" fill="#000"/>
<polyline points="257.50,809.80 264.60,711.59 271.70,713.58 278.80,725.48 300.10,740.36 342.70,742.84 427.90,732.42" fill="none" stroke="#000" stroke-width="1.7" stroke-dasharray="5.4 3.5"/>
<path d="M261.20,710.60H268.00M264.60,710.60V712.58M261.20,712.58H268.00" stroke="#000" stroke-width="1.4" fill="none"/>
<path d="M268.30,705.14H275.10M271.70,705.14V722.01M268.30,722.01H275.10" stroke="#000" stroke-width="1.4" fill="none"/>
<path d="M275.40,716.06H282.20M278.80,716.06V734.90M275.40,734.90H282.20" stroke="#000" stroke-width="1.4" fill="none"/>
<path d="M296.70,724.49H303.50M300.10,724.49V756.23M296.70,756.23H303.50" stroke="#000" stroke-width="1.4" fill="none"/>
<path d="M339.30,741.35H346.10M342.70,741.35V744.33M339.30,744.33H346.10" stroke="#000" stroke-width="1.4" fill="none"/>
<path d="M424.50,726.97H431.30M427.90,726.97V737.88M424.50,737.88H431.30" stroke="#000" stroke-width="1.4" fill="none"/>
<rect x="254.00" y="806.30" width="7" height="7" fill="#000"/>
<rect x="261.10" y="708.09" width="7" height="7" fill="#000"/>
<rect x="268.20" y="710.08" width="7" height="7" fill="#000"/>
<rect x="275.30" y="721.98" width="7" height="7" fill="#000"/>
<rect x="296.60" y="736.86" width="7" height="7" fill="#000"/>
<rect x="339.20" y="739.34" width="7" height="7" fill="#000"/>
<rect x="424.40" y="728.92" width="7" height="7" fill="#000"/>
<line x1="49.00" y1="888.10" x2="49.00" y2="1005.90" stroke="#000" stroke-width="1.7" />
<line x1="45.50" y1="898.20" x2="49.00" y2="898.20" stroke="#000" stroke-width="1.5" />
<line x1="45.50" y1="948.50" x2="49.00" y2="948.50" stroke="#000" stroke-width="1.5" />
<line x1="45.50" y1="998.80" x2="49.00" y2="998.80" stroke="#000" stroke-width="1.5" />
<line x1="49.00" y1="1002.70" x2="221.90" y2="1002.70" stroke="#000" stroke-width="1.8" />
<line x1="83.10" y1="1002.70" x2="83.10" y2="1005.90" stroke="#000" stroke-width="1.5" />
<line x1="117.60" y1="1002.70" x2="117.60" y2="1005.90" stroke="#000" stroke-width="1.5" />
<line x1="152.10" y1="1002.70" x2="152.10" y2="1005.90" stroke="#000" stroke-width="1.5" />
<line x1="186.60" y1="1002.70" x2="186.60" y2="1005.90" stroke="#000" stroke-width="1.5" />
<line x1="221.10" y1="1002.70" x2="221.10" y2="1005.90" stroke="#000" stroke-width="1.5" />
<polyline points="48.60,999.60 55.50,975.21 62.40,969.54 69.30,966.91 90.00,972.98 131.40,982.60 214.20,967.52" fill="none" stroke="#000" stroke-width="1.6" />
<path d="M52.10,971.16H58.90M55.50,971.16V979.26M52.10,979.26H58.90" stroke="#000" stroke-width="1.4" fill="none"/>
<path d="M59.00,968.53H65.80M62.40,968.53V970.56M59.00,970.56H65.80" stroke="#000" stroke-width="1.4" fill="none"/>
<path d="M65.90,965.90H72.70M69.30,965.90V967.92M65.90,967.92H72.70" stroke="#000" stroke-width="1.4" fill="none"/>
<path d="M86.60,971.97H93.40M90.00,971.97V974.00M86.60,974.00H93.40" stroke="#000" stroke-width="1.4" fill="none"/>
<path d="M128.00,981.59H134.80M131.40,981.59V983.61M128.00,983.61H134.80" stroke="#000" stroke-width="1.4" fill="none"/>
<path d="M210.80,951.33H217.60M214.20,951.33V983.71M210.80,983.71H217.60" stroke="#000" stroke-width="1.4" fill="none"/>
<circle cx="48.60" cy="999.60" r="3.6" fill="#000"/>
<circle cx="55.50" cy="975.21" r="3.6" fill="#000"/>
<circle cx="62.40" cy="969.54" r="3.6" fill="#000"/>
<circle cx="69.30" cy="966.91" r="3.6" fill="#000"/>
<circle cx="90.00" cy="972.98" r="3.6" fill="#000"/>
<circle cx="131.40" cy="982.60" r="3.6" fill="#000"/>
<circle cx="214.20" cy="967.52" r="3.6" fill="#000"/>
<polyline points="48.60,997.78 55.50,901.94 62.40,899.72 69.30,910.54 90.00,926.94 131.40,957.30 214.20,965.39" fill="none" stroke="#000" stroke-width="1.7" stroke-dasharray="5.4 3.5"/>
<path d="M52.10,896.48H58.90M55.50,896.48V907.41M52.10,907.41H58.90" stroke="#000" stroke-width="1.4" fill="none"/>
<path d="M59.00,898.70H65.80M62.40,898.70V900.73M59.00,900.73H65.80" stroke="#000" stroke-width="1.4" fill="none"/>
<path d="M65.90,903.46H72.70M69.30,903.46V917.63M65.90,917.63H72.70" stroke="#000" stroke-width="1.4" fill="none"/>
<path d="M86.60,919.55H93.40M90.00,919.55V934.33M86.60,934.33H93.40" stroke="#000" stroke-width="1.4" fill="none"/>
<path d="M128.00,947.68H134.80M131.40,947.68V966.91M128.00,966.91H134.80" stroke="#000" stroke-width="1.4" fill="none"/>
<path d="M210.80,962.36H217.60M214.20,962.36V968.43M210.80,968.43H217.60" stroke="#000" stroke-width="1.4" fill="none"/>
<rect x="45.10" y="994.28" width="7" height="7" fill="#000"/>
<rect x="52.00" y="898.44" width="7" height="7" fill="#000"/>
<rect x="58.90" y="896.22" width="7" height="7" fill="#000"/>
<rect x="65.80" y="907.04" width="7" height="7" fill="#000"/>
<rect x="86.50" y="923.44" width="7" height="7" fill="#000"/>
<rect x="127.90" y="953.80" width="7" height="7" fill="#000"/>
<rect x="210.70" y="961.89" width="7" height="7" fill="#000"/>
<line x1="257.80" y1="889.80" x2="257.80" y2="1006.90" stroke="#000" stroke-width="1.7" />
<line x1="254.30" y1="900.00" x2="257.80" y2="900.00" stroke="#000" stroke-width="1.5" />
<line x1="254.30" y1="949.30" x2="257.80" y2="949.30" stroke="#000" stroke-width="1.5" />
<line x1="254.30" y1="998.40" x2="257.80" y2="998.40" stroke="#000" stroke-width="1.5" />
<line x1="257.80" y1="1003.70" x2="435.50" y2="1003.70" stroke="#000" stroke-width="1.8" />
<line x1="293.18" y1="1003.70" x2="293.18" y2="1006.90" stroke="#000" stroke-width="1.5" />
<line x1="328.56" y1="1003.70" x2="328.56" y2="1006.90" stroke="#000" stroke-width="1.5" />
<line x1="363.94" y1="1003.70" x2="363.94" y2="1006.90" stroke="#000" stroke-width="1.5" />
<line x1="399.32" y1="1003.70" x2="399.32" y2="1006.90" stroke="#000" stroke-width="1.5" />
<line x1="434.70" y1="1003.70" x2="434.70" y2="1006.90" stroke="#000" stroke-width="1.5" />
<polyline points="257.80,991.00 264.88,946.05 271.95,927.37 279.03,911.86 300.26,910.78 342.71,920.56 427.62,939.43" fill="none" stroke="#000" stroke-width="1.6" />
<path d="M261.48,937.35H268.28M264.88,937.35V954.74M261.48,954.74H268.28" stroke="#000" stroke-width="1.4" fill="none"/>
<path d="M268.55,918.68H275.35M271.95,918.68V936.07M268.55,936.07H275.35" stroke="#000" stroke-width="1.4" fill="none"/>
<path d="M275.63,910.88H282.43M279.03,910.88V912.85M275.63,912.85H282.43" stroke="#000" stroke-width="1.4" fill="none"/>
<path d="M296.86,907.02H303.66M300.26,907.02V914.53M296.86,914.53H303.66" stroke="#000" stroke-width="1.4" fill="none"/>
<path d="M339.31,919.57H346.11M342.71,919.57V921.55M339.31,921.55H346.11" stroke="#000" stroke-width="1.4" fill="none"/>
<path d="M424.22,938.44H431.02M427.62,938.44V940.42M424.22,940.42H431.02" stroke="#000" stroke-width="1.4" fill="none"/>
<circle cx="257.80" cy="991.00" r="3.6" fill="#000"/>
<circle cx="264.88" cy="946.05" r="3.6" fill="#000"/>
<circle cx="271.95" cy="927.37" r="3.6" fill="#000"/>
<circle cx="279.03" cy="911.86" r="3.6" fill="#000"/>
<circle cx="300.26" cy="910.78" r="3.6" fill="#000"/>
<circle cx="342.71" cy="920.56" r="3.6" fill="#000"/>
<circle cx="427.62" cy="939.43" r="3.6" fill="#000"/>
<polyline points="257.80,990.51 264.88,906.03 271.95,904.06 279.03,902.08 300.26,946.05 342.71,975.49 427.62,989.72" fill="none" stroke="#000" stroke-width="1.7" stroke-dasharray="5.4 3.5"/>
<path d="M254.40,975.69H261.20M257.80,975.69V990.51M254.40,990.51H261.20" stroke="#000" stroke-width="1.4" fill="none"/>
<path d="M261.48,898.33H268.28M264.88,898.33V913.74M261.48,913.74H268.28" stroke="#000" stroke-width="1.4" fill="none"/>
<path d="M268.55,899.61H275.35M271.95,899.61V908.50M268.55,908.50H275.35" stroke="#000" stroke-width="1.4" fill="none"/>
<path d="M275.63,899.12H282.43M279.03,899.12V905.05M275.63,905.05H282.43" stroke="#000" stroke-width="1.4" fill="none"/>
<path d="M296.86,930.44H303.66M300.26,930.44V961.66M296.86,961.66H303.66" stroke="#000" stroke-width="1.4" fill="none"/>
<path d="M339.31,974.50H346.11M342.71,974.50V976.48M339.31,976.48H346.11" stroke="#000" stroke-width="1.4" fill="none"/>
<path d="M424.22,985.77H431.02M427.62,985.77V993.67M424.22,993.67H431.02" stroke="#000" stroke-width="1.4" fill="none"/>
<rect x="254.30" y="987.01" width="7" height="7" fill="#000"/>
<rect x="261.38" y="902.53" width="7" height="7" fill="#000"/>
<rect x="268.45" y="900.56" width="7" height="7" fill="#000"/>
<rect x="275.53" y="898.58" width="7" height="7" fill="#000"/>
<rect x="296.76" y="942.55" width="7" height="7" fill="#000"/>
<rect x="339.21" y="971.99" width="7" height="7" fill="#000"/>
<rect x="424.12" y="986.22" width="7" height="7" fill="#000"/>
<text x="40.98" y="685.30" font-size="13.5" textLength="35.25" lengthAdjust="spacingAndGlyphs" >Naive</text>
<text x="258.20" y="685.30" font-size="13.5" textLength="57.87" lengthAdjust="spacingAndGlyphs" >Activated</text>
<text x="44.70" y="863.70" font-size="13.5" textLength="57.57" lengthAdjust="spacingAndGlyphs" >Activated</text>
<text x="53.55" y="880.10" font-size="13.5" textLength="39.22" lengthAdjust="spacingAndGlyphs" >rested</text>
<text x="259.35" y="870.50" font-size="13.5" textLength="51.13" lengthAdjust="spacingAndGlyphs" >Memory</text>
<line x1="176.50" y1="709.60" x2="188.00" y2="709.60" stroke="#000" stroke-width="1.4" />
<circle cx="182.3" cy="709.6" r="3.4" fill="#000"/>
<line x1="176.50" y1="722.10" x2="188.00" y2="722.10" stroke="#000" stroke-width="1.4" />
<rect x="179" y="718.8" width="6.6" height="6.6" fill="#000"/>
<text x="191.33" y="713.90" font-size="13" textLength="24.59" lengthAdjust="spacingAndGlyphs" >IL-6</text>
<text x="191.36" y="726.50" font-size="13" textLength="31.72" lengthAdjust="spacingAndGlyphs" >IL-10</text>
<text x="21.15" y="713.50" font-size="10.5" textLength="17.53" lengthAdjust="spacingAndGlyphs" >100</text>
<text x="26.89" y="764.50" font-size="10.5" textLength="11.96" lengthAdjust="spacingAndGlyphs" >50</text>
<text x="32.57" y="811.50" font-size="10.5" textLength="6.19" lengthAdjust="spacingAndGlyphs" >0</text>
<text x="231.85" y="715.30" font-size="10.5" textLength="17.43" lengthAdjust="spacingAndGlyphs" >100</text>
<text x="237.49" y="766.50" font-size="10.5" textLength="11.96" lengthAdjust="spacingAndGlyphs" >50</text>
<text x="243.17" y="813.30" font-size="10.5" textLength="6.19" lengthAdjust="spacingAndGlyphs" >0</text>
<text x="24.77" y="901.90" font-size="10.5" textLength="17.11" lengthAdjust="spacingAndGlyphs" >100</text>
<text x="30.30" y="952.70" font-size="10.5" textLength="11.74" lengthAdjust="spacingAndGlyphs" >50</text>
<text x="35.99" y="999.80" font-size="10.5" textLength="5.96" lengthAdjust="spacingAndGlyphs" >0</text>
<text x="233.18" y="904.90" font-size="10.5" textLength="16.89" lengthAdjust="spacingAndGlyphs" >100</text>
<text x="238.50" y="955.70" font-size="10.5" textLength="11.74" lengthAdjust="spacingAndGlyphs" >50</text>
<text x="244.65" y="1002.90" font-size="10.5" textLength="5.26" lengthAdjust="spacingAndGlyphs" >0</text>
<text x="41.50" y="827.60" font-size="10.5" textLength="5.84" lengthAdjust="spacingAndGlyphs" >0</text>
<text x="74.65" y="827.60" font-size="10.5" textLength="11.74" lengthAdjust="spacingAndGlyphs" >50</text>
<text x="107.76" y="827.60" font-size="10.5" textLength="17.21" lengthAdjust="spacingAndGlyphs" >100</text>
<text x="143.81" y="827.60" font-size="10.5" textLength="17.21" lengthAdjust="spacingAndGlyphs" >150</text>
<text x="180.12" y="827.60" font-size="10.5" textLength="16.96" lengthAdjust="spacingAndGlyphs" >200</text>
<text x="216.17" y="827.60" font-size="10.5" textLength="16.96" lengthAdjust="spacingAndGlyphs" >250</text>
<text x="254.50" y="827.80" font-size="10.5" textLength="5.84" lengthAdjust="spacingAndGlyphs" >0</text>
<text x="287.10" y="827.80" font-size="10.5" textLength="11.74" lengthAdjust="spacingAndGlyphs" >50</text>
<text x="319.66" y="827.80" font-size="10.5" textLength="17.21" lengthAdjust="spacingAndGlyphs" >100</text>
<text x="355.16" y="827.80" font-size="10.5" textLength="17.21" lengthAdjust="spacingAndGlyphs" >150</text>
<text x="390.92" y="827.80" font-size="10.5" textLength="16.96" lengthAdjust="spacingAndGlyphs" >200</text>
<text x="426.42" y="827.80" font-size="10.5" textLength="16.96" lengthAdjust="spacingAndGlyphs" >250</text>
<text x="45.60" y="1018.40" font-size="10.5" textLength="5.84" lengthAdjust="spacingAndGlyphs" >0</text>
<text x="77.20" y="1018.40" font-size="10.5" textLength="11.74" lengthAdjust="spacingAndGlyphs" >50</text>
<text x="108.76" y="1018.40" font-size="10.5" textLength="17.21" lengthAdjust="spacingAndGlyphs" >100</text>
<text x="143.26" y="1018.40" font-size="10.5" textLength="17.21" lengthAdjust="spacingAndGlyphs" >150</text>
<text x="178.02" y="1018.40" font-size="10.5" textLength="16.96" lengthAdjust="spacingAndGlyphs" >200</text>
<text x="212.52" y="1018.40" font-size="10.5" textLength="16.96" lengthAdjust="spacingAndGlyphs" >250</text>
<text x="254.80" y="1018.20" font-size="10.5" textLength="5.84" lengthAdjust="spacingAndGlyphs" >0</text>
<text x="287.28" y="1018.20" font-size="10.5" textLength="11.74" lengthAdjust="spacingAndGlyphs" >50</text>
<text x="319.72" y="1018.20" font-size="10.5" textLength="17.21" lengthAdjust="spacingAndGlyphs" >100</text>
<text x="355.10" y="1018.20" font-size="10.5" textLength="17.21" lengthAdjust="spacingAndGlyphs" >150</text>
<text x="390.74" y="1018.20" font-size="10.5" textLength="16.96" lengthAdjust="spacingAndGlyphs" >200</text>
<text x="426.12" y="1018.20" font-size="10.5" textLength="16.96" lengthAdjust="spacingAndGlyphs" >250</text>
<text x="182.14" y="1046.60" font-size="13.5" textLength="92.45" lengthAdjust="spacingAndGlyphs" >Time (minutes)</text>
<text transform="translate(16.8,902.7) rotate(-90)" font-size="13.5" textLength="108.4" lengthAdjust="spacingAndGlyphs">% maximal signal</text>
</svg>
</body></html>
